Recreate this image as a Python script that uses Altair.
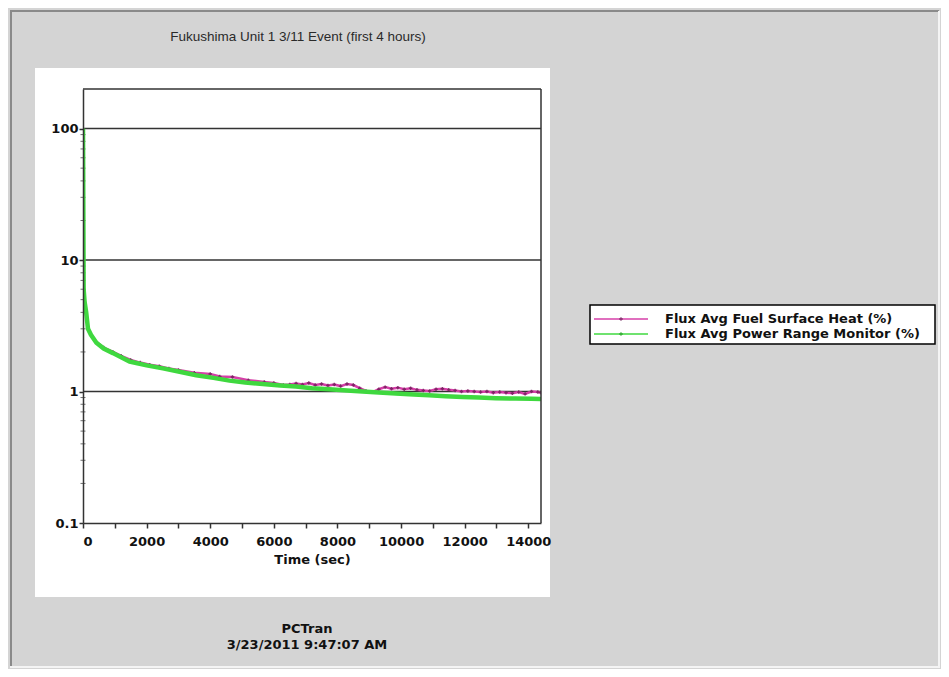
import altair as alt
import pandas as pd

TITLE = "Fukushima Unit 1 3/11 Event (first 4 hours)"
FOOT1 = "PCTran"
FOOT2 = "3/23/2011 9:47:07 AM"
X_TITLE = "Time (sec)"
NAME_MAG = "Flux Avg Fuel Surface Heat (%)"
NAME_GRN = "Flux Avg Power Range Monitor (%)"
SERIES = [NAME_MAG, NAME_GRN]
COLORS = ["#d63fa8", "#3fd83f"]
MARKER_COLORS = ["#6a1a55", "#1f9a1f"]

T_GRN = [0, 20, 50, 100, 157, 250, 420, 650, 942, 1200, 1466, 2000, 2511, 3000, 3559, 4100,
         4604, 5100, 5650, 6200, 6698, 7200, 7743, 8300, 8788, 9300, 9837, 10400, 10882,
         11400, 11927, 12450, 12975, 13600, 14100, 14400]
V_GRN = [100, 6.0, 4.8, 4.0, 3.0, 2.7, 2.35, 2.12, 1.96, 1.82, 1.69, 1.58, 1.50, 1.42, 1.33, 1.27,
         1.21, 1.17, 1.14, 1.11, 1.09, 1.06, 1.04, 1.02, 1.00, 0.985, 0.966, 0.95, 0.935,
         0.92, 0.91, 0.90, 0.89, 0.885, 0.88, 0.878]

T_MAG = [0, 20, 50, 100, 157, 250, 420, 650, 942, 1200, 1500, 1800, 2100, 2400, 2700, 3000,
         3500, 4000, 4300, 4700, 5200, 5700, 6000, 6300, 6500, 6700, 6900, 7100, 7300, 7500,
         7700, 7900, 8100, 8300, 8500, 8700, 8900, 9100, 9300, 9500, 9700, 9900, 10100, 10300,
         10500, 10700, 10900, 11100, 11300, 11500, 11700, 11900, 12100, 12300, 12500, 12700,
         12900, 13100, 13300, 13500, 13700, 13900, 14100, 14300, 14400]
V_MAG = [100, 6.0, 4.8, 4.0, 3.0, 2.7, 2.38, 2.16, 2.0, 1.87, 1.74, 1.66, 1.60, 1.56, 1.50, 1.46,
         1.39, 1.36, 1.30, 1.29, 1.22, 1.18, 1.16, 1.12, 1.13, 1.15, 1.13, 1.16, 1.12, 1.14,
         1.11, 1.13, 1.10, 1.14, 1.12, 1.06, 1.01, 0.99, 1.04, 1.08, 1.05, 1.07, 1.04, 1.06,
         1.03, 1.02, 1.01, 1.04, 1.05, 1.03, 1.02, 1.00, 1.01, 1.00, 0.99, 1.00,
         0.98, 0.99, 0.98, 0.97, 0.99, 0.96, 1.00, 0.99, 0.98]

X_TICKS = [0, 1000, 2000, 3000, 4000, 5000, 6000, 7000, 8000, 9000, 10000, 11000, 12000, 13000, 14000]
Y_LABELS = [0.1, 1, 10, 100]
GRID_Y = [1, 10, 100]
MINOR_Y = [0.2, 0.3, 0.4, 0.5, 0.6, 0.7, 0.8, 0.9, 2, 3, 4, 5, 6, 7, 8, 9,
           20, 30, 40, 50, 60, 70, 80, 90]

W, H = 458, 434
BG = "#d4d4d4"
FONT = "DejaVu Sans"

xsc = alt.Scale(domain=[0, 14400], nice=False, zero=False)
ysc = alt.Scale(type="log", domain=[0.1, 200], nice=False)
xax = alt.Axis(values=X_TICKS, labelExpr="datum.value % 2000 == 0 ? datum.label : ''",
               format="d", grid=False, tickSize=5, labelPadding=7, titlePadding=5,
               labelFont=FONT, labelFontWeight="bold", labelFontSize=13, labelColor="#111",
               titleFont=FONT, titleFontWeight="bold", titleFontSize=13, titleColor="#111",
               domainColor="#333", domainWidth=1.5, tickColor="#333", tickWidth=1.5,
               labelOverlap=False, zindex=1)
yax = alt.Axis(values=Y_LABELS, labelExpr="datum.value < 1 ? '0.1' : toString(datum.value)",
               grid=False, tickSize=4, labelPadding=1,
               labelFont=FONT, labelFontWeight="bold", labelFontSize=13, labelColor="#111",
               domainColor="#333", domainWidth=1.5, tickColor="#333", tickWidth=1.5,
               labelOverlap=False, zindex=1)


def X(f):
    return alt.X(f, type="quantitative", scale=xsc, axis=xax, title=X_TITLE)


def Y(f):
    return alt.Y(f, type="quantitative", scale=ysc, axis=yax, title=None)


color = alt.Color("series:N", scale=alt.Scale(domain=SERIES, range=COLORS), legend=None)

df_g = pd.DataFrame({"t": T_GRN, "v": V_GRN, "series": NAME_GRN})
df_m = pd.DataFrame({"t": T_MAG, "v": V_MAG, "series": NAME_MAG})
df_grid = pd.DataFrame({"g": GRID_Y})
df_minor = pd.DataFrame({"m": MINOR_Y})
one = pd.DataFrame({"a": [0]})

# decorative frame and white panel
bevel_top = alt.Chart(one).mark_rule(color="#8a8a8a", strokeWidth=2).encode(
    x=alt.value(-73), x2=alt.value(856), y=alt.value(-78))
bevel_left = alt.Chart(one).mark_rule(color="#8a8a8a", strokeWidth=2).encode(
    x=alt.value(-72), y=alt.value(-78), y2=alt.value(578))
bevel_right = alt.Chart(one).mark_rule(color="#f4f4f4", strokeWidth=2).encode(
    x=alt.value(856), y=alt.value(-78), y2=alt.value(578))
bevel_bottom = alt.Chart(one).mark_rule(color="#f4f4f4", strokeWidth=2).encode(
    x=alt.value(-73), x2=alt.value(857), y=alt.value(578))
panel = alt.Chart(one).mark_rect(color="white").encode(
    x=alt.value(-48), x2=alt.value(467), y=alt.value(-21), y2=alt.value(508))

grid = alt.Chart(df_grid).mark_rule(color="#333333", strokeWidth=1.5).encode(y=Y("g"))
minor = alt.Chart(df_minor).mark_tick(orient="horizontal", size=5, thickness=1, color="#333").encode(
    x=alt.value(0), y=Y("m"))

mag_line = alt.Chart(df_m).mark_line(strokeWidth=2.5, clip=True).encode(x=X("t"), y=Y("v"), color=color)
mag_pts = alt.Chart(df_m).mark_point(shape="cross", size=12, filled=True, color=MARKER_COLORS[0],
                                     opacity=0.8, clip=True).encode(x=X("t"), y=Y("v"))
grn_line = alt.Chart(df_g).mark_line(strokeWidth=4.5, clip=True).encode(x=X("t"), y=Y("v"), color=color)

border_top = alt.Chart(one).mark_rule(color="#333", strokeWidth=1.5).encode(
    x=alt.value(0), x2=alt.value(W), y=alt.value(0))
border_right = alt.Chart(one).mark_rule(color="#333", strokeWidth=1.5).encode(
    x=alt.value(W), y=alt.value(0), y2=alt.value(H))

title = alt.Chart(pd.DataFrame({"s": [TITLE]})).mark_text(
    font="Liberation Sans", fontSize=13.5, color="#2a2a2a", align="center", baseline="middle").encode(
    text="s:N", x=alt.value(215), y=alt.value(-52))
foot1 = alt.Chart(pd.DataFrame({"s": [FOOT1]})).mark_text(
    font=FONT, fontSize=13, fontWeight="bold", color="#111", align="center", baseline="middle").encode(
    text="s:N", x=alt.value(224), y=alt.value(540))
foot2 = alt.Chart(pd.DataFrame({"s": [FOOT2]})).mark_text(
    font=FONT, fontSize=13, fontWeight="bold", color="#111", align="center", baseline="middle").encode(
    text="s:N", x=alt.value(224), y=alt.value(556))

# legend box (drawn by hand to match the compact original)
LX0, LX1, LY0, LY1 = 507, 852, 216, 255
ROW_Y = [230, 245]
leg_box = alt.Chart(one).mark_rect(fill="white", stroke="black", strokeWidth=1.5).encode(
    x=alt.value(LX0), x2=alt.value(LX1), y=alt.value(LY0), y2=alt.value(LY1))
leg_layers = [leg_box]
for i, name in enumerate(SERIES):
    leg_layers.append(alt.Chart(one).mark_rule(color=COLORS[i], strokeWidth=1.5).encode(
        x=alt.value(LX0 + 4), x2=alt.value(LX0 + 58), y=alt.value(ROW_Y[i])))
    leg_layers.append(alt.Chart(one).mark_point(shape="cross", size=14, filled=True,
                                                color=MARKER_COLORS[i]).encode(
        x=alt.value(LX0 + 31), y=alt.value(ROW_Y[i])))
    leg_layers.append(alt.Chart(pd.DataFrame({"s": [name]})).mark_text(
        font=FONT, fontSize=13, fontWeight="bold", color="#111", align="left", baseline="middle").encode(
        text="s:N", x=alt.value(LX0 + 75), y=alt.value(ROW_Y[i])))

chart = alt.layer(
    bevel_top, bevel_left, bevel_right, bevel_bottom, panel, grid, minor,
    mag_line, mag_pts, grn_line, border_top, border_right, title, foot1, foot2, *leg_layers
).properties(
    width=W, height=H,
    autosize=alt.AutoSizeParams(type="none"),
    padding={"left": 75, "top": 81, "right": 400, "bottom": 146},
    background=BG,
).configure_view(stroke=None, fill="white")

chart.save("out.html", embed_options={"renderer": "svg", "actions": False})
